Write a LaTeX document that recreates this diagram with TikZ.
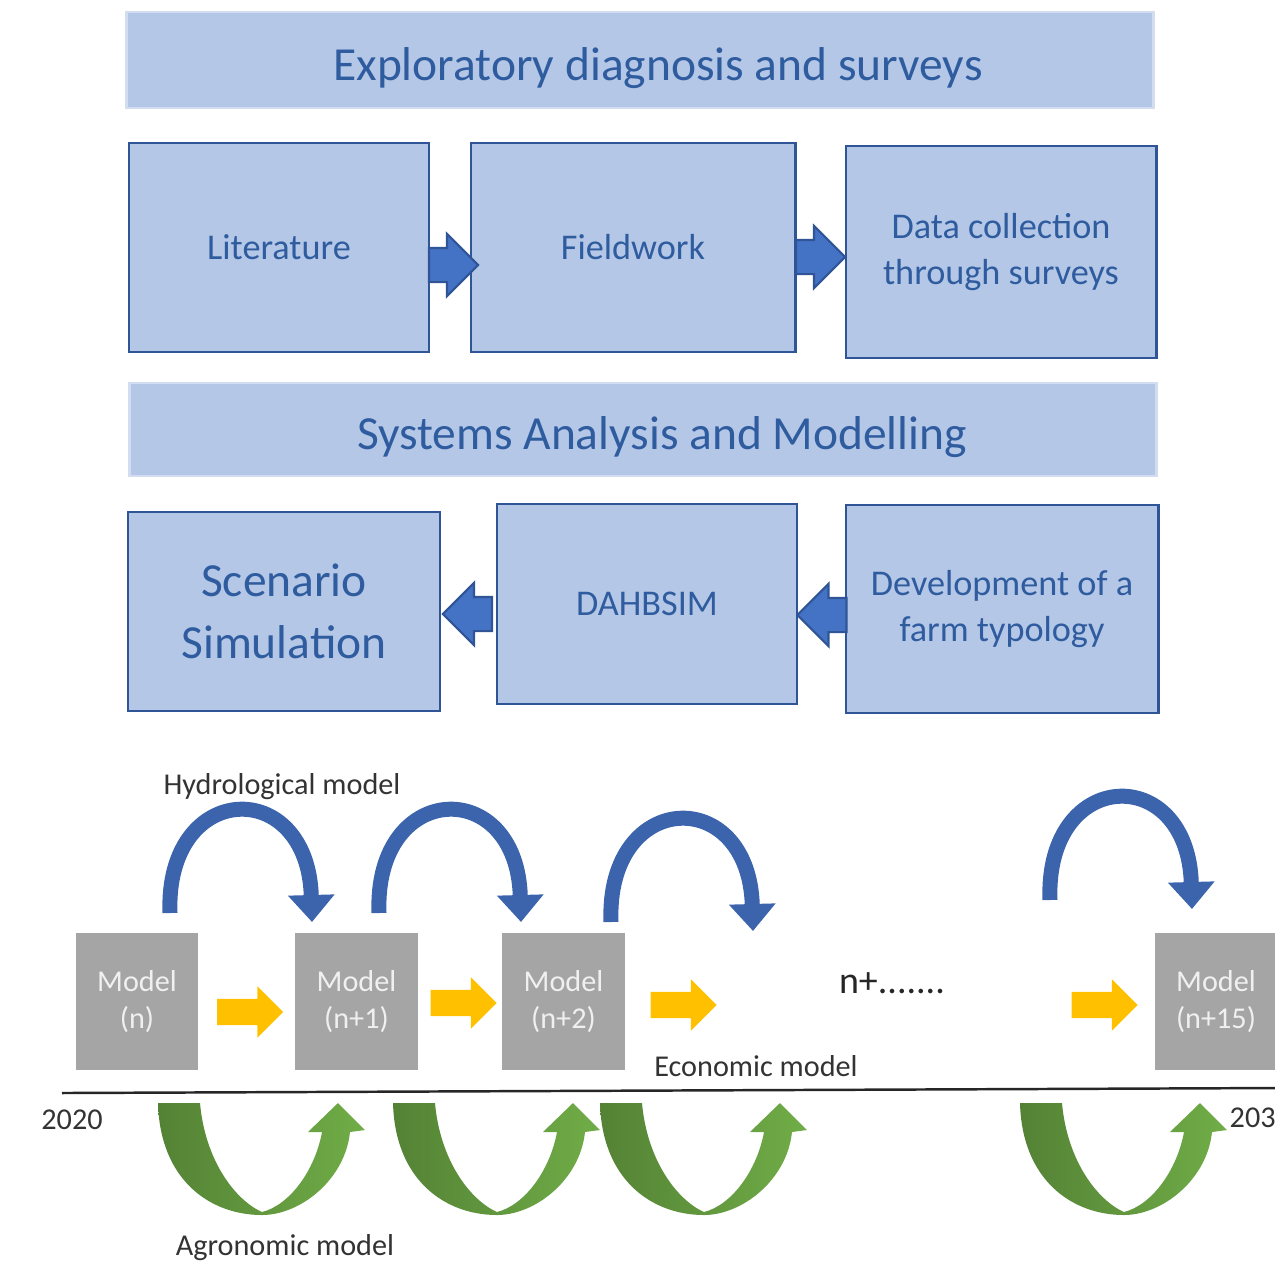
\documentclass[tikz,border=0pt]{standalone}
\usepackage{fontspec}
\setmainfont{Carlito}
\usepackage{xcolor}
\usetikzlibrary{positioning, arrows.meta, shapes.arrows}
\definecolor{boxfill}{HTML}{B4C7E7}
\definecolor{boxline}{HTML}{2F5597}
\definecolor{boxtext}{HTML}{2F5C9E}
\definecolor{arrowblue}{HTML}{4472C4}
\definecolor{modelgray}{HTML}{A5A5A5}
\definecolor{stepyellow}{HTML}{FFC000}
\definecolor{agrodark}{HTML}{548235}
\definecolor{agrolight}{HTML}{70AD47}
\definecolor{labelgray}{HTML}{333333}
\tikzset{
  bannerbox/.style = {draw=boxfill!60!white, line width=0.8pt, fill=boxfill, inner sep=0pt},
  bannertext/.style = {text=boxtext, inner sep=0pt, font=\fontsize{13.5}{16}\selectfont},
  stagebox/.style  = {draw=boxline, line width=0.8pt, fill=boxfill, text=boxtext, inner sep=0pt, align=center, font=\fontsize{10.3}{13}\selectfont},
  modelbox/.style  = {fill=modelgray, text=white!88!gray, inner sep=0pt, align=center, minimum width=1.22cm, minimum height=1.37cm, font=\fontsize{8.6}{10.5}\selectfont},
  blockright/.style = {single arrow, draw=boxline, line width=0.6pt, fill=arrowblue, inner xsep=0pt, inner ysep=0.16cm, minimum height=0.49cm, single arrow head extend=0.14cm},
  blockleft/.style  = {blockright, shape border rotate=180},
  yellowstep/.style = {single arrow, fill=stepyellow, inner xsep=0pt, inner ysep=0.125cm, minimum height=0.66cm, single arrow head extend=0.125cm},
  timelabel/.style  = {text=labelgray, inner sep=0pt, font=\fontsize{8.6}{10}\selectfont},
  hydroline/.style  = {draw=arrowblue!88!black, line width=0.15cm, -{Triangle[width=0.45cm, length=0.27cm]}},
  hydro/.pic = {
    \draw[hydroline] (0,0) .. controls (-5,-133) and (138,-138) .. (142,9);
  },
  agro/.pic = {
    \shade[left color=agrodark, right color=agrolight]
      (0,0) .. controls (2,77) and (52,112) .. (104,112)
      .. controls (142,112) and (187,77) .. (192,29) -- (207,27) -- (180,0) -- (150,29) -- (164,29)
      .. controls (157,67) and (132,102) .. (104,109)
      .. controls (77,97) and (47,57) .. (42,0) -- cycle;
  }
}

\begin{document}
\begin{tikzpicture}[x=0.01cm, y=-0.01cm]
  \useasboundingbox (0,0) rectangle (1275,1262);
  \clip (0,0) rectangle (1275,1262);

  % --- Exploratory part ---------------------------------------------------
  \node[bannerbox, minimum width=10.26cm, minimum height=0.96cm] (explo) at (640,60) {};
  \node[bannertext] (explotext) at (658,68) {Exploratory diagnosis and surveys};

  \node[stagebox, minimum width=3.00cm, minimum height=2.09cm] (lit)   at (279,247.5) {Literature};
  \node[stagebox, minimum width=3.24cm, minimum height=2.09cm] (field) at (633,247.5) {Fieldwork};
  \node[stagebox, minimum width=3.10cm, minimum height=2.12cm] (datacol) at (1001,252)
    {Data collection\\through surveys};

  \node[blockright] (litfield)  at (445,265) {};
  \node[blockright] (fielddata) at (812,257) {};

  % --- Modelling part -----------------------------------------------------
  \node[bannerbox, minimum width=10.26cm, minimum height=0.93cm] (sysana) at (643,429.5) {};
  \node[bannertext] (sysanatext) at (662,437) {Systems Analysis and Modelling};

  \node[stagebox, minimum width=3.12cm, minimum height=1.99cm, font=\fontsize{13.5}{17.5}\selectfont] (scen) at (284,611.5)
    {Scenario\\Simulation};
  \node[stagebox, minimum width=3.00cm, minimum height=2.00cm] (dahb) at (647,604) {DAHBSIM};
  \node[stagebox, minimum width=3.12cm, minimum height=2.08cm] (farmtyp) at (1002,609)
    {Development of a\\farm typology};

  \node[blockleft] (dahbscen) at (476,614) {};
  \node[blockleft] (farmdahb) at (830.5,615) {};

  % --- Yearly model chain -------------------------------------------------
  \node[modelbox] (mn)   at (137,1001.5)  {Model\\(n)};
  \node[modelbox] (mn1)  at (356.5,1001.5) {Model\\(n+1)};
  \node[modelbox] (mn2)  at (563.5,1001.5) {Model\\(n+2)};
  \node[modelbox] (mn15) at (1216,1001.5) {Model\\(n+15)};

  \node[yellowstep] (step1) at (243.5,1012) {};
  \node[yellowstep] (step2) at (457,1003) {};
  \node[yellowstep] (step3) at (677,1005) {};
  \node[yellowstep] (step4) at (1098,1005) {};

  \pic at (170,913) {hydro};
  \pic at (379,913) {hydro};
  \pic at (611,922) {hydro};
  \pic at (1050,900) {hydro};

  \pic at (158,1103) {agro};
  \pic at (393,1103) {agro};
  \pic at (600,1103) {agro};
  \pic at (1020,1103) {agro};

  % --- timeline -----------------------------------------------------------
  \coordinate (tstart) at (62,1093);
  \coordinate (tend)   at (1280,1088);
  \draw[line width=0.7pt, black!85] (tstart) -- (tend);

  \node[timelabel] (hydrolab) at (282,787)  {Hydrological model};
  \node[timelabel] (ecolab)   at (756,1066) {Economic model};
  \node[timelabel] (agrolab)  at (285,1248) {Agronomic model};
  \node[timelabel] (ystart) at (72,1120) {2020};
  \node[timelabel, anchor=west] (yend) at (1229,1118) {2035};
  \node[text=black!85, inner sep=0pt, font=\fontsize{10.8}{12}\selectfont] (dots) at (892,983) {n+.......};

\end{tikzpicture}
\end{document}
